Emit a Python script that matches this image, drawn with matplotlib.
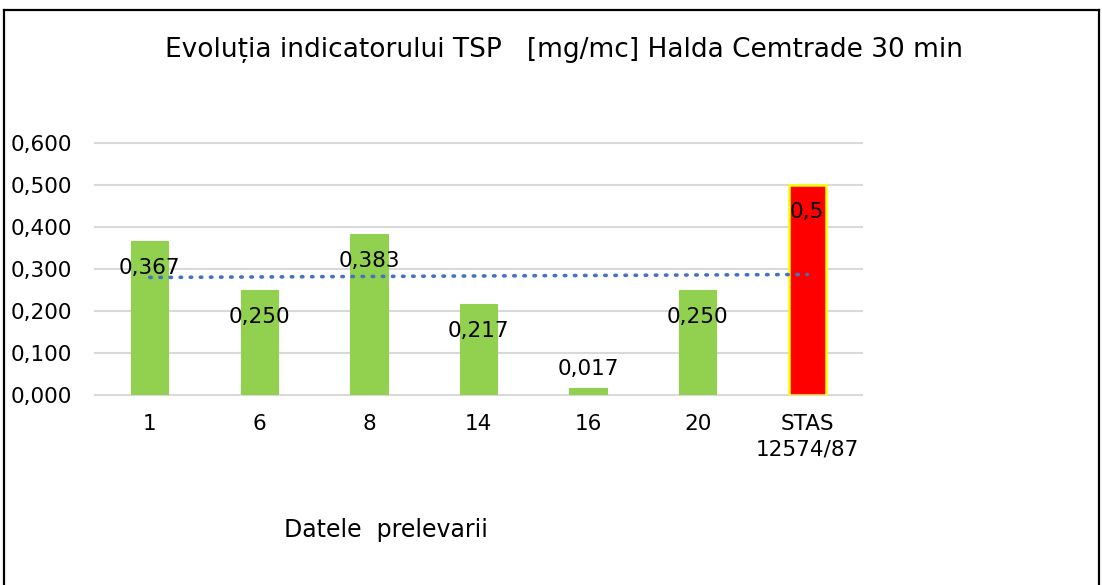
import numpy as np
from matplotlib import pyplot as plt
from matplotlib.lines import Line2D

# data
categories = ["1", "6", "8", "14", "16", "20", "STAS\n12574/87"]
values = [0.367, 0.250, 0.383, 0.217, 0.017, 0.250, 0.5]
value_labels = ["0,367", "0,250", "0,383", "0,217", "0,017", "0,250", "0,5"]
bar_colors = ["#92D050"] * 6 + ["#FF0000"]
edge_colors = ["#92D050"] * 6 + ["#FFFF00"]
y_ticks = [0.0, 0.1, 0.2, 0.3, 0.4, 0.5, 0.6]
y_tick_labels = ["0,000", "0,100", "0,200", "0,300", "0,400", "0,500", "0,600"]

title = "Evoluția indicatorului TSP   [mg/mc] Halda Cemtrade 30 min"
xlabel = "Datele  prelevarii"

plt.rcParams['font.family'] = ['DejaVu Sans']

W, H = 1102, 585
fig = plt.figure(figsize=(W / 100, H / 100), dpi=100)
ax = fig.add_axes([95 / W, 1 - 395 / H, (862 - 95) / W, (395 - 143) / H])

x = np.arange(len(categories))
ax.bar(x, values, width=0.34, color=bar_colors, edgecolor=edge_colors, linewidth=[0.8] * 6 + [1.8], zorder=2)

# linear trendline over all points
coef = np.polyfit(x, values, 1)
ax.plot(x, np.polyval(coef, x), linestyle=(0, (0.4, 2.4)), dash_capstyle="round",
        color="#4472C4", linewidth=2.6, zorder=3)

fs = 15.5
for xi, v, lab in zip(x, values, value_labels):
    if v > 0.1:
        ypos = v - 0.064
    else:
        ypos = v + 0.045
    ax.text(xi, ypos, lab, ha="center", va="center", fontsize=fs, color="black", zorder=4)

ax.set_xlim(-0.5, len(categories) - 0.5)
ax.set_ylim(0, 0.6)
ax.set_yticks(y_ticks)
ax.set_yticklabels(y_tick_labels, fontsize=fs)
ax.set_xticks(x)
ax.set_xticklabels(categories, fontsize=fs, linespacing=1.3)
ax.tick_params(axis="both", length=0)
ax.tick_params(axis="y", pad=16.5)
ax.tick_params(axis="x", pad=14)
ax.grid(axis="y", color="#D9D9D9", linewidth=1.5, zorder=0)
for gl in ax.get_ygridlines():
    gl.set_clip_on(False)
for s in ax.spines.values():
    s.set_visible(False)

fig.text(0.5 * (165 + 963) / W, 1 - 50 / H, title, ha="center", va="center", fontsize=19)
fig.text(386 / W, 1 - 530 / H, xlabel, ha="center", va="center", fontsize=17)

# outer frame
lw = 1.6
fig.add_artist(Line2D([4 / W, 4 / W], [0, 1 - 10 / H], color="black", linewidth=lw, transform=fig.transFigure))
fig.add_artist(Line2D([4 / W, 1099 / W], [1 - 10 / H, 1 - 10 / H], color="black", linewidth=lw, transform=fig.transFigure))
fig.add_artist(Line2D([1099 / W, 1099 / W], [0, 1 - 10 / H], color="black", linewidth=lw, transform=fig.transFigure))

fig.savefig("out.png", dpi=100)
